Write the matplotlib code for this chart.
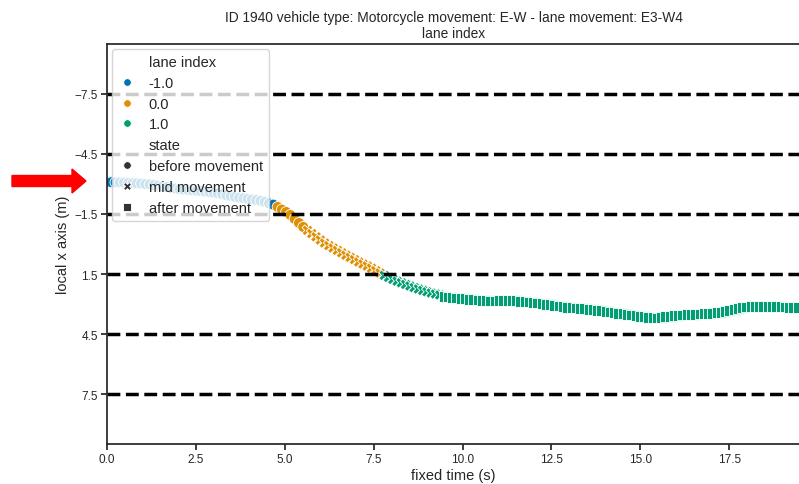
import numpy as np
import pandas as pd
import matplotlib
matplotlib.use("Agg")
import matplotlib.pyplot as plt
import seaborn as sns
from matplotlib.patches import FancyArrow

# ---------------- data ----------------
SAMPLE_DT = 0.12  # seconds between samples

lane_levels = ["-1.0", "0.0", "1.0"]
state_levels = ["before movement", "mid movement", "after movement"]

# local x position (m) per segment, in time order
blue_before_y = [-3.10, -3.09, -3.08, -3.08, -3.07, -3.05, -3.04, -3.03, -3.02, -3.00,
                 -2.98, -2.95, -2.92, -2.88, -2.84, -2.80, -2.77, -2.74, -2.72, -2.70,
                 -2.68, -2.66, -2.64, -2.62, -2.60, -2.57, -2.53, -2.48, -2.43, -2.39,
                 -2.35, -2.32, -2.29, -2.26, -2.23, -2.20, -2.16, -2.10, -2.03, -1.97]
orange_before_y = [-1.85, -1.72, -1.60, -1.45, -1.25, -1.05, -0.85]
orange_mid_y = [-0.68, -0.52, -0.36, -0.20, -0.05, 0.08, 0.20, 0.32, 0.44, 0.56,
                0.67, 0.78, 0.90, 1.00, 1.10, 1.21, 1.33, 1.45]
green_mid_y = [1.57, 1.67, 1.77, 1.86, 1.94, 2.02, 2.10, 2.18, 2.25, 2.32,
               2.39, 2.45, 2.50, 2.55]
green_after_y = [2.62, 2.65, 2.68, 2.70, 2.72, 2.74, 2.76, 2.78, 2.80, 2.82,
                 2.84, 2.85, 2.85, 2.84, 2.82, 2.81, 2.82, 2.84, 2.86, 2.88,
                 2.90, 2.92, 2.95, 2.98, 3.01, 3.04, 3.07, 3.10, 3.13, 3.16,
                 3.18, 3.20, 3.22, 3.24, 3.26, 3.28, 3.31, 3.34, 3.37, 3.40,
                 3.43, 3.46, 3.49, 3.52, 3.55, 3.58, 3.61, 3.64, 3.67, 3.69,
                 3.70, 3.68, 3.64, 3.61, 3.59, 3.57, 3.55, 3.53, 3.52, 3.51,
                 3.50, 3.49, 3.48, 3.46, 3.44, 3.41, 3.37, 3.32, 3.27, 3.22,
                 3.18, 3.15, 3.13, 3.12, 3.11, 3.11, 3.12, 3.13, 3.13, 3.14,
                 3.15, 3.16, 3.16, 3.17]

segments = [
    (blue_before_y, "-1.0", "before movement"),
    (orange_before_y, "0.0", "before movement"),
    (orange_mid_y, "0.0", "mid movement"),
    (green_mid_y, "1.0", "mid movement"),
    (green_after_y, "1.0", "after movement"),
]

lane_boundaries = [-7.5, -4.5, -1.5, 1.5, 4.5, 7.5]
x_ticks = [0.0, 2.5, 5.0, 7.5, 10.0, 12.5, 15.0, 17.5]

title = "ID 1940 vehicle type: Motorcycle movement: E-W - lane movement: E3-W4\nlane index"

rows = []
idx = 0
for ys, lane, state in segments:
    for y in ys:
        rows.append((idx * SAMPLE_DT, y, lane, state))
        idx += 1
df = pd.DataFrame(rows, columns=["fixed time (s)", "local x axis (m)", "lane index", "state"])

# ---------------- plot ----------------
sns.set_theme(style="ticks")
plt.rcParams["font.family"] = ["Liberation Sans", "DejaVu Sans"]
plt.rcParams["legend.fontsize"] = 10.5

W, H = 799, 485
fig = plt.figure(figsize=(W / 100, H / 100), dpi=100)
ax = fig.add_axes([107 / W, 40 / H, 693 / W, 400 / H])

sns.scatterplot(data=df, x="fixed time (s)", y="local x axis (m)",
                hue="lane index", style="state",
                hue_order=lane_levels, style_order=state_levels,
                markers=["o", "X", "s"], palette="colorblind", s=62, ax=ax)

for yb in lane_boundaries:
    ax.axhline(yb, color="black", linestyle="--", linewidth=2.5, zorder=2)

ax.set_xlim(0, 693 / 35.55)
ax.set_ylim(10, -10)
ax.set_yticks(lane_boundaries)
ax.set_xticks(x_ticks)
ax.tick_params(axis="both", labelsize=8.5, length=4.5, pad=2)
ax.set_xlabel("fixed time (s)", fontsize=10.5, labelpad=2)
ax.set_ylabel("local x axis (m)", fontsize=10.5, labelpad=3)
ax.set_title(title, fontsize=9.9, pad=5)

leg = ax.legend(loc="upper left", borderaxespad=0.35, fontsize=10.5,
                handlelength=1.3, handletextpad=0.8, labelspacing=0.47)
for h in leg.legend_handles:
    try:
        h.set_markersize(5.5)
    except AttributeError:
        try:
            h.set_sizes([30])
        except AttributeError:
            pass

# red pointer arrow in the left margin
arrow = FancyArrow(12 / W, 1 - 182 / H, 60 / W, 0,
                   width=11 / H, head_width=24 / H, head_length=14 / W,
                   length_includes_head=False, color="#ff0000",
                   transform=fig.transFigure, figure=fig)
fig.patches.append(arrow)

fig.savefig("out.png", dpi=100)
